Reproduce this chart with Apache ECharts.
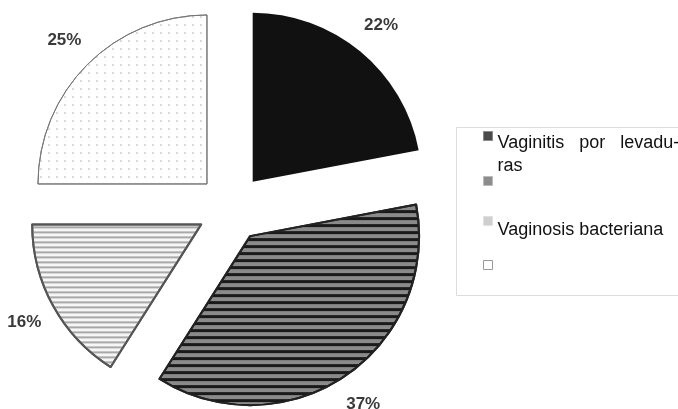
<!DOCTYPE html>
<html>
<head>
<meta charset="utf-8">
<script src="https://cdn.jsdelivr.net/npm/echarts@6/dist/echarts.min.js"></script>
<style>html,body{margin:0;padding:0;background:#fff}#c{width:678px;height:409px}</style>
</head>
<body>
<div id="c"></div>
<script>
const categories = ['Vaginitis por levaduras', '', 'Vaginosis bacteriana', ''];
const legendLabels = ['Vaginitis   por   levadu-\nras', '', 'Vaginosis bacteriana', ''];
const values = [22, 37, 16, 25];

const names = categories.map((c, i) => c || '\u200b'.repeat(i + 1));

const sliceStyles = [
  { color: '#111' },
  { color: '#8a8a8a', borderColor: '#222', borderWidth: 2,
    decal: { symbol: 'rect', color: '#1a1a1a', dashArrayX: [1, 0], dashArrayY: [3, 4], rotation: 0 } },
  { color: '#f6f6f6', borderColor: '#555', borderWidth: 2,
    decal: { symbol: 'rect', color: '#a8a8a8', dashArrayX: [1, 0], dashArrayY: [1.5, 3], rotation: 0 } },
  { color: '#fff', borderColor: '#777', borderWidth: 1,
    decal: { symbol: 'circle', color: '#aaa', dashArrayX: [2, 6], dashArrayY: [2, 6], symbolSize: 0.8 } }
];
const legendIconStyles = [
  { color: '#4a4a4a', borderColor: '#888', borderWidth: 1, decal: 'none' },
  { color: '#8c8c8c', borderColor: '#bbb', borderWidth: 1, decal: 'none' },
  { color: '#cfcfcf', borderColor: '#e0e0e0', borderWidth: 1, decal: 'none' },
  { color: '#fff', borderColor: '#999', borderWidth: 1, decal: 'none' }
];
const legendTops = [94.5, 176, 200.5, 260];
const legendSpacers = [37, 0, 18, 0];

function legendText(i) {
  const lbl = legendLabels[i];
  if (!lbl) return '';
  const lines = lbl.split('\n').map(s => '{t|' + s + '}');
  return ['{s' + i + '|}'].concat(lines).join('\n');
}

const rich = { t: { fontFamily: 'Liberation Sans, Arial, sans-serif', fontSize: 18, color: '#111', lineHeight: 23 } };
legendSpacers.forEach((h, i) => { rich['s' + i] = { lineHeight: h, height: h, fontSize: 1 }; });

const chart = echarts.init(document.getElementById('c'), null, { renderer: 'canvas' });
chart.setOption({
  animation: false,
  backgroundColor: '#fff',
  graphic: [{
    type: 'rect', left: 454, top: 125,
    shape: { width: 240, height: 168 },
    style: { fill: 'none', stroke: '#dcdcdc', lineWidth: 1 }
  }],
  legend: names.map((n, i) => ({
    orient: 'vertical',
    left: 483,
    top: legendTops[i],
    padding: 0,
    itemWidth: 9,
    itemHeight: 9,
    selectedMode: false,
    formatter: (name) => legendText(names.indexOf(name)),
    textStyle: {
      fontFamily: 'Liberation Sans, Arial, sans-serif',
      fontSize: 18,
      color: '#111',
      lineHeight: legendLabels[i] ? 23 : 9,
      rich: rich
    },
    data: [{
      name: n,
      icon: 'rect',
      itemStyle: legendIconStyles[i]
    }]
  })),
  series: [{
    type: 'pie',
    center: [231, 208],
    radius: 169,
    startAngle: 90,
    clockwise: true,
    selectedMode: 'multiple',
    selectedOffset: 34,
    avoidLabelOverlap: false,
    emphasis: { disabled: true },
    label: {
      show: true,
      position: 'outside',
      formatter: '{c}%',
      fontFamily: 'Liberation Sans, Arial, sans-serif',
      fontWeight: 'bold',
      fontSize: 17,
      color: '#3a3a3a',
      distanceToLabelLine: 5
    },
    labelLine: { show: false, length: 34, length2: -23 },
    data: values.map((v, i) => ({
      name: names[i],
      value: v,
      selected: true,
      itemStyle: sliceStyles[i]
    }))
  }]
});
</script>
</body>
</html>
